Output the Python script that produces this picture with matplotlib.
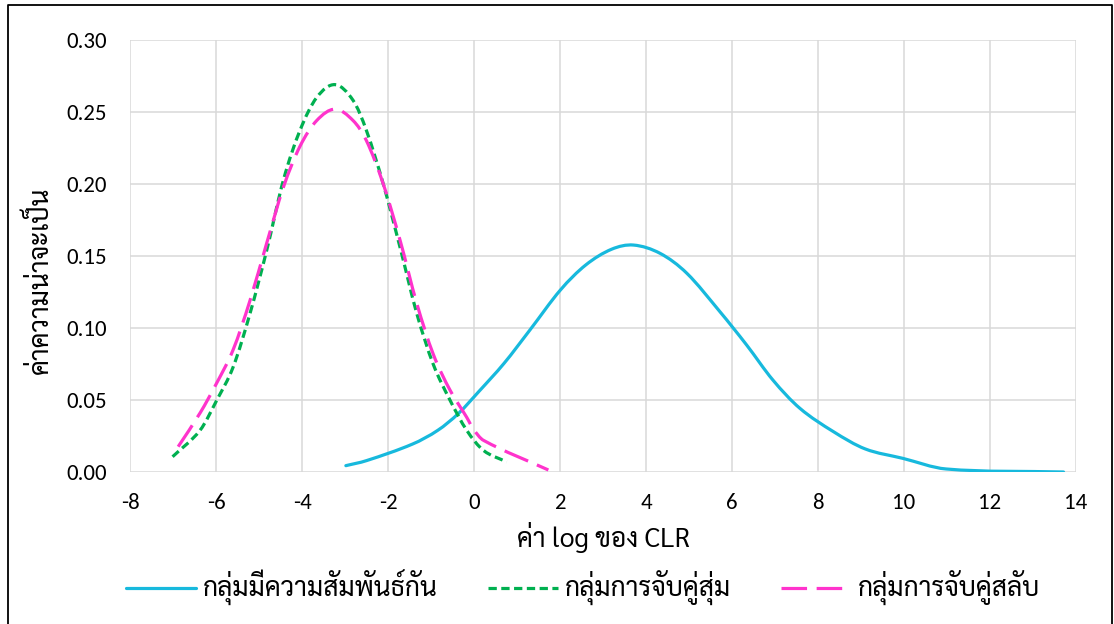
import matplotlib
matplotlib.use("Agg")
import numpy as np
import matplotlib.pyplot as plt
from matplotlib import font_manager
from matplotlib.path import Path
from matplotlib.patches import PathPatch
from matplotlib.lines import Line2D

# ---- Data ----
related_x = [-2.98, -2.50, -1.43, -0.84, -0.36, 0.11, 0.70, 1.30, 2.01, 2.60, 3.20,
             3.71, 4.33, 4.95, 5.72, 6.34, 6.95, 7.58, 8.36, 9.10, 9.97, 10.98, 13.71]
related_y = [0.0044, 0.0079, 0.0194, 0.029, 0.0407, 0.0558, 0.0755, 0.0986, 0.1264, 0.1438,
             0.1547, 0.1576, 0.1518, 0.1380, 0.1113, 0.0882, 0.0639, 0.0442, 0.0280,
             0.0160, 0.0095, 0.0021, 0.0]

random_x = [-7.01, -6.37, -5.98, -5.60, -5.21, -4.82, -4.43, -4.05, -3.66, -3.23, -2.81,
            -2.50, -2.11, -1.72, -1.33, -0.95, -0.56, -0.17, 0.22, 0.76]
random_y = [0.0106, 0.029, 0.050, 0.073, 0.110, 0.154, 0.203, 0.237, 0.260, 0.269, 0.258,
            0.237, 0.200, 0.156, 0.110, 0.075, 0.050, 0.029, 0.015, 0.007]

swap_x = [-6.88, -6.37, -5.98, -5.60, -5.21, -4.82, -4.43, -4.05, -3.66, -3.23, -2.81,
          -2.50, -2.11, -1.72, -1.33, -0.95, -0.56, -0.17, -0.02, 0.22, 1.73]
swap_y = [0.0176, 0.041, 0.062, 0.085, 0.119, 0.159, 0.198, 0.226, 0.244, 0.252, 0.244,
          0.230, 0.200, 0.161, 0.117, 0.082, 0.057, 0.038, 0.030, 0.022, 0.0014]

series_names = ["กลุ่มมีความสัมพันธ์กัน", "กลุ่มการจับคู่สุ่ม", "กลุ่มการจับคู่สลับ"]
x_label = "ค่า log ของ CLR"
y_label = "ค่าความน่าจะเป็น"
x_ticks = list(range(-8, 15, 2))
y_ticks = [0.0, 0.05, 0.10, 0.15, 0.20, 0.25, 0.30]

# ---- fonts ----
available = set(f.name for f in font_manager.fontManager.ttflist)
num_font = next((f for f in ["Carlito", "Open Sans", "DejaVu Sans"] if f in available))
thai_family = ["Sarabun", "DejaVu Sans"]
plt.rcParams['font.family'] = [num_font, "DejaVu Sans"]
plt.rcParams['axes.unicode_minus'] = False

colors = ["#17B9DD", "#00B050", "#FF33CC"]
styles = ["-", (0, (2.6, 1.4)), (0, (8, 3))]
LW = 2.3


def smooth_path(xs, ys):
    """Smoothed line through the data points (cubic Hermite in x, drawn as Bezier)."""
    x = np.asarray(xs, float)
    y = np.asarray(ys, float)
    n = len(x)
    m = np.empty(n)
    m[0] = (y[1] - y[0]) / (x[1] - x[0])
    m[-1] = (y[-1] - y[-2]) / (x[-1] - x[-2])
    for i in range(1, n - 1):
        m[i] = (y[i + 1] - y[i - 1]) / (x[i + 1] - x[i - 1])
    verts = [(x[0], y[0])]
    codes = [Path.MOVETO]
    for i in range(n - 1):
        h = x[i + 1] - x[i]
        verts += [(x[i] + h / 3, y[i] + m[i] * h / 3),
                  (x[i + 1] - h / 3, y[i + 1] - m[i + 1] * h / 3),
                  (x[i + 1], y[i + 1])]
        codes += [Path.CURVE4] * 3
    return Path(verts, codes)


fig = plt.figure(figsize=(11.14, 6.24), dpi=100)
ax = fig.add_axes([130/1114, 152/624, 946/1114, 432/624])

series = [(related_x, related_y), (random_x, random_y), (swap_x, swap_y)]
for (xs, ys), c, ls in zip(series, colors, styles):
    patch = PathPatch(smooth_path(xs, ys), fill=False, edgecolor=c, lw=LW, linestyle=ls,
                      capstyle="round" if ls == "-" else "butt", zorder=3)
    ax.add_patch(patch)

ax.set_xlim(-8, 14)
ax.set_ylim(0, 0.30)
ax.set_xticks(x_ticks)
ax.set_yticks(y_ticks)
ax.set_yticklabels([f"{v:.2f}" for v in y_ticks])
ax.grid(True, color="#d9d9d9", lw=1.1)
ax.set_axisbelow(True)
for s in ax.spines.values():
    s.set_visible(False)
ax.tick_params(axis="both", length=0, labelsize=16.5, colors="black")
ax.tick_params(axis="y", pad=16.5)
ax.tick_params(axis="x", pad=15)

ax.set_xlabel(x_label, fontsize=19, family=thai_family, va="center")
ax.xaxis.set_label_coords(0.5, (472 - 538) / 432)
ax.set_ylabel(y_label, fontsize=19, family=thai_family, va="center")
ax.yaxis.set_label_coords((40 - 130) / 946, (472 - 280) / 432)

handles = [Line2D([], [], color=c, lw=LW, linestyle=ls, solid_capstyle="round")
           for c, ls in zip(colors, styles)]
fig.legend(handles, series_names, loc="center", bbox_to_anchor=(583/1114, 1 - 588/624),
           ncol=3, frameon=False, prop={"family": thai_family, "size": 19},
           handlelength=2.65, columnspacing=1.9, handletextpad=0.25, borderpad=0)

# outer chart-area border (top, left, right visible in reference)
fig.add_artist(Line2D([8/1114, 8/1114, 1112/1114, 1112/1114], [0, 1 - 5/624, 1 - 5/624, 0],
                      transform=fig.transFigure, color="black", lw=1.3))
fig.savefig("out.png", dpi=100)
